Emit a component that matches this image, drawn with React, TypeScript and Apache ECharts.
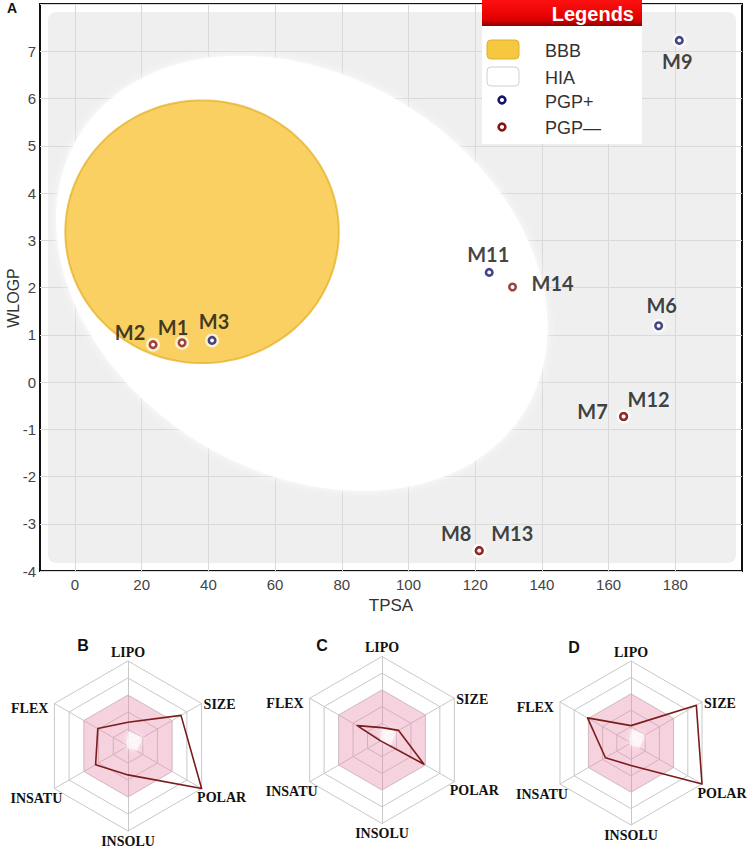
import React, { useEffect, useRef } from 'react';
import * as echarts from 'echarts';

// ---------- Data (panel A: BOILED-Egg) ----------
const X_TICKS = [0, 20, 40, 60, 80, 100, 120, 140, 160, 180];
const COMPOUNDS = ['M1', 'M2', 'M3', 'M6', 'M7', 'M8', 'M9', 'M11', 'M12', 'M13', 'M14'];
const TPSA = [32.1, 23.4, 41.1, 175.0, 164.5, 121.2, 181.2, 124.2, 164.5, 121.2, 131.2];
const WLOGP = [0.83, 0.79, 0.88, 1.19, -0.73, -3.57, 7.23, 2.32, -0.73, -3.57, 2.01];
const PGP = ['-', '-', '+', '+', '-', '-', '+', '+', '-', '-', '-'];

// regions (data space): centre, conjugate semi-axis vectors
const HIA_CENTER = [68, 2.3];
const HIA_U = [67.2, -2.875];
const HIA_V = [-30.3, -3.6];
const BBB_CENTER = [38.1, 3.18];
const BBB_U = [41.0, 0];
const BBB_V = [0, 2.78];

// ---------- Data (panels B-D: bioavailability radars) ----------
const AXES = ['LIPO', 'SIZE', 'POLAR', 'INSOLU', 'INSATU', 'FLEX']; // clockwise from top
const RADAR_MAX = 5;
const PINK_OUTER = [3, 3, 3, 3, 3, 3];
const PINK_INNER = [0.85, 1.0, 0.6, 0.15, 0.1, 0.1];
const RADAR_B = [1.4, 3.6, 5.0, 1.7, 2.2, 2.05];
const RADAR_C = [0.74, 1.15, 2.9, 0.1, 0.1, 1.72];
const RADAR_D = [1.06, 4.6, 5.0, 1.37, 1.8, 3.06];
const RADAR_TITLES = ['B', 'C', 'D'];

// ---------- Layout / style ----------
const NARROW = "'Liberation Sans Narrow', 'Arial Narrow', 'Liberation Sans', Arial, sans-serif";
const LABEL_FONT = "Lato, 'Open Sans', sans-serif";
const SERIF = "'Liberation Serif', 'Times New Roman', serif";
const NAVY = '#15166a';
const DARKRED = '#861414';
const LABEL_OFFSETS: Record<string, number[]> = {
  M1: [-9, -16], M2: [-23, -13], M3: [2, -19], M6: [3, -21], M7: [-31, -5],
  M8: [-23, -18], M9: [-2, 21], M11: [-1, -18], M12: [25, -17], M13: [33, -18], M14: [40, -4],
};
const RADAR_GEOM = [
  { cx: 128, cy: 746, r: 85, title: [83, 645] },
  { cx: 382, cy: 740, r: 83.5, title: [322, 645] },
  { cx: 631, cy: 743, r: 82, title: [574, 647] },
];

const toCCW = (v: number[]) => [v[0], v[5], v[4], v[3], v[2], v[1]];

function radarLabels(g: { cx: number; cy: number; r: number }) {
  const c = 0.866 * g.r;
  const h = 0.5 * g.r;
  const style = { fontFamily: SERIF, fontWeight: 'bold', fontSize: 14, fill: '#111' };
  const mk = (text: string, x: number, y: number, align: string) => ({
    type: 'text', x, y, z: 50,
    style: { ...style, text, textAlign: align, textVerticalAlign: 'middle' },
  });
  return [
    mk('LIPO', g.cx, g.cy - g.r - 9, 'center'),
    mk('SIZE', g.cx + c + 2, g.cy - h + 1, 'left'),
    mk('POLAR', g.cx + c + 20, g.cy + h + 9, 'center'),
    mk('INSOLU', g.cx, g.cy + g.r + 10, 'center'),
    mk('INSATU', g.cx - c - 18, g.cy + h + 10, 'center'),
    mk('FLEX', g.cx - c - 6, g.cy - h + 5, 'right'),
  ];
}

export default function App() {
  const ref = useRef<HTMLDivElement>(null);
  useEffect(() => {
    if (!ref.current) return;
    const chart = echarts.init(ref.current, null, { renderer: 'svg' });
    const regions = [
      { c: HIA_CENTER, u: HIA_U, v: HIA_V, kind: 'HIA' },
      { c: BBB_CENTER, u: BBB_U, v: BBB_V, kind: 'BBB' },
    ];
    const scatterData = COMPOUNDS.map((name, i) => ({
      name,
      value: [TPSA[i], WLOGP[i]],
      itemStyle: { borderColor: PGP[i] === '+' ? NAVY : DARKRED },
      label: { offset: LABEL_OFFSETS[name] },
    }));
    const haloData = COMPOUNDS.map((name, i) => ({ name, value: [TPSA[i], WLOGP[i]] }));

    const radarSeries = [RADAR_B, RADAR_C, RADAR_D].map((vals, i) => ({
      type: 'radar',
      radarIndex: i,
      symbol: 'none',
      silent: true,
      data: [
        { value: toCCW(PINK_OUTER), lineStyle: { width: 0 }, areaStyle: { color: 'rgba(232,135,170,0.55)' } },
        { value: toCCW(PINK_INNER), lineStyle: { width: 0 }, areaStyle: { color: 'rgba(255,255,255,0.9)', shadowBlur: 6, shadowColor: '#fff' } },
        { value: toCCW(vals), lineStyle: { color: '#7a1c1c', width: 1.6 }, areaStyle: { opacity: 0 } },
      ],
    }));

    const legendX = 482;
    const graphic: any[] = [
      { type: 'rect', z: -10, shape: { x: 48, y: 12, width: 688, height: 551, r: 8 }, style: { fill: '#efefef' } },
      { type: 'text', x: 12, y: 8, style: { text: 'A', fontFamily: 'Liberation Sans, Arial, sans-serif', fontWeight: 'bold', fontSize: 14, fill: '#111', textAlign: 'center', textVerticalAlign: 'middle' } },
      {
        type: 'text', x: 13, y: 298, rotation: Math.PI / 2,
        style: { text: 'WLOGP', fontFamily: NARROW, fontSize: 16, fill: '#333', textAlign: 'center', textVerticalAlign: 'middle' },
      },
      // legend
      { type: 'rect', z: 100, shape: { x: legendX, y: 26, width: 160, height: 118 }, style: { fill: '#ffffff' } },
      {
        type: 'rect', z: 100, shape: { x: legendX, y: 0, width: 160, height: 26 },
        style: {
          fill: new echarts.graphic.LinearGradient(0, 0, 0, 1, [
            { offset: 0, color: '#ff1010' }, { offset: 0.75, color: '#e00000' }, { offset: 1, color: '#8c0000' },
          ]),
        },
      },
      { type: 'text', z: 101, x: 634, y: 14, style: { text: 'Legends', fontFamily: 'Liberation Sans, Arial, sans-serif', fontWeight: 'bold', fontSize: 20, fill: '#fff', textAlign: 'right', textVerticalAlign: 'middle' } },
      { type: 'rect', z: 101, shape: { x: 487, y: 40, width: 32, height: 19, r: 4 }, style: { fill: '#f5c840', stroke: '#ddb030', lineWidth: 1 } },
      { type: 'rect', z: 101, shape: { x: 487, y: 67, width: 32, height: 19, r: 4 }, style: { fill: '#fff', stroke: '#cfcfcf', lineWidth: 1 } },
      { type: 'circle', z: 101, shape: { cx: 502, cy: 100, r: 3.4 }, style: { fill: '#fff', stroke: NAVY, lineWidth: 2.6 } },
      { type: 'circle', z: 101, shape: { cx: 502, cy: 127, r: 3.4 }, style: { fill: '#fff', stroke: DARKRED, lineWidth: 2.6 } },
      ...[['BBB', 51], ['HIA', 78], ['PGP+', 102], ['PGP—', 128]].map(([t, y]) => ({
        type: 'text', z: 101, x: 545, y,
        style: { text: t, fontFamily: NARROW, fontSize: 18, fill: '#333', textAlign: 'left', textVerticalAlign: 'middle' },
      })),
    ];
    RADAR_GEOM.forEach((g, i) => {
      graphic.push(...radarLabels(g));
      graphic.push({
        type: 'text', x: g.title[0], y: g.title[1],
        style: { text: RADAR_TITLES[i], fontFamily: 'Liberation Sans, Arial, sans-serif', fontWeight: 'bold', fontSize: 16, fill: '#111', textAlign: 'center', textVerticalAlign: 'middle' },
      });
    });

    chart.setOption({
      animation: false,
      backgroundColor: '#ffffff',
      grid: {
        left: 40, top: 4, width: 702, height: 567, show: true, borderColor: '#111', borderWidth: 2,
        backgroundColor: 'transparent', containLabel: false, outerBoundsMode: 'none',
      },
      xAxis: {
        type: 'value', min: -10.5, max: 200,
        name: 'TPSA', nameLocation: 'middle', nameGap: 24,
        nameTextStyle: { fontFamily: NARROW, fontSize: 17, color: '#333' },
        axisLine: { show: false },
        axisTick: { show: false, customValues: X_TICKS },
        axisLabel: { customValues: X_TICKS, fontFamily: NARROW, fontSize: 15, color: '#444', margin: 6 },
        splitLine: { show: true, lineStyle: { color: '#d9d9d9', width: 1 } },
      },
      yAxis: {
        type: 'value', min: -4, max: 8, interval: 1,
        axisLine: { show: false },
        axisTick: { show: false },
        axisLabel: { fontFamily: NARROW, fontSize: 15, color: '#444', margin: 4, formatter: (v: number) => (v === 8 ? '' : String(v)) },
        splitLine: { show: true, lineStyle: { color: '#d9d9d9', width: 1 } },
      },
      radar: RADAR_GEOM.map((g) => ({
        center: [g.cx, g.cy], radius: g.r, startAngle: 90, splitNumber: 5, shape: 'polygon',
        indicator: toCCW(AXES).map((n) => ({ name: n, min: 0, max: RADAR_MAX })),
        axisName: { show: false },
        splitArea: { show: false },
        splitLine: { lineStyle: { color: '#c8c8c8', width: 1 } },
        axisLine: { lineStyle: { color: '#c8c8c8', width: 1 } },
      })),
      graphic,
      series: [
        {
          type: 'custom',
          coordinateSystem: 'cartesian2d',
          silent: true,
          z: 1,
          data: regions.map((r) => r.c),
          renderItem: (params: any, api: any) => {
            const e = regions[params.dataIndex];
            const pts: number[][] = [];
            for (let k = 0; k < 160; k++) {
              const t = (k / 160) * Math.PI * 2;
              pts.push(api.coord([
                e.c[0] + e.u[0] * Math.cos(t) + e.v[0] * Math.sin(t),
                e.c[1] + e.u[1] * Math.cos(t) + e.v[1] * Math.sin(t),
              ]));
            }
            const style = e.kind === 'HIA'
              ? { fill: 'rgba(255,255,255,0.94)', shadowBlur: 8, shadowColor: 'rgba(255,255,255,0.9)' }
              : { fill: 'rgba(248,203,80,0.9)', stroke: 'rgba(228,178,40,0.75)', lineWidth: 2 };
            return { type: 'polygon', shape: { points: pts }, style };
          },
        },
        {
          type: 'scatter',
          z: 4,
          silent: true,
          symbol: 'circle',
          symbolSize: 14,
          itemStyle: { color: 'rgba(255,255,255,0.85)' },
          data: haloData,
        },
        {
          type: 'scatter',
          z: 5,
          symbol: 'circle',
          symbolSize: 6.5,
          itemStyle: { color: '#ffffff', borderWidth: 2.6 },
          label: {
            show: true, position: 'inside', formatter: '{b}',
            fontFamily: LABEL_FONT, fontWeight: 'bold', fontSize: 20, color: '#111',
            align: 'center', verticalAlign: 'middle',
          },
          data: scatterData,
        },
        ...radarSeries,
      ],
    });
    return () => chart.dispose();
  }, []);
  return <div ref={ref} style={{ position: 'absolute', left: 0, top: 0, width: 749, height: 848 }} />;
}
